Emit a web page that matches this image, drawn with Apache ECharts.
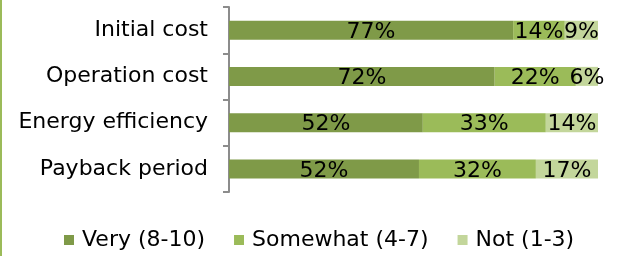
<!DOCTYPE html>
<html>
<head>
<meta charset="utf-8">
<script src="https://cdn.jsdelivr.net/npm/echarts@6/dist/echarts.min.js"></script>
<style>
  html, body { margin: 0; padding: 0; background: #fff; }
  #chart { width: 625px; height: 256px; }
</style>
</head>
<body>
<div id="chart"></div>
<script>
// 数据
var categories = ['Initial cost', 'Operation cost', 'Energy efficiency', 'Payback period'];
var seriesNames = ['Very (8-10)', 'Somewhat (4-7)', 'Not (1-3)'];
var very = [77, 72, 52, 52];
var somewhat = [14, 22, 33, 32];
var notAt = [9, 6, 14, 17];
var colors = ['#7f9a48', '#9bbb59', '#c3d69b'];

var raw = [very, somewhat, notAt];

// 100% stacked: each row scaled to its own total, label shows the raw value
function rowTotal(i) {
  return very[i] + somewhat[i] + notAt[i];
}

var chart = echarts.init(document.getElementById('chart'));

var series = raw.map(function (values, s) {
  return {
    name: seriesNames[s],
    type: 'bar',
    stack: 'total',
    barWidth: 19,
    itemStyle: { color: colors[s] },
    label: {
      show: true,
      position: 'inside',
      offset: [0, 2],
      color: '#000',
      fontFamily: 'DejaVu Sans',
      fontSize: 22,
      formatter: function (p) {
        return values[p.dataIndex] + '%';
      }
    },
    data: values.map(function (v, i) {
      return v / rowTotal(i) * 100;
    })
  };
});

var option = {
  animation: false,
  textStyle: { fontFamily: 'DejaVu Sans' },
  grid: { left: 229, right: 27, top: 7, bottom: 64 },
  xAxis: {
    type: 'value',
    min: 0,
    max: 100,
    show: false
  },
  yAxis: {
    type: 'category',
    inverse: true,
    data: categories,
    axisLine: { lineStyle: { color: '#8c8c8c', width: 2 } },
    axisTick: { show: true, length: 6, lineStyle: { color: '#8c8c8c', width: 2 } },
    axisLabel: {
      margin: 21,
      color: '#000',
      fontFamily: 'DejaVu Sans',
      fontSize: 22
    }
  },
  legend: {
    data: seriesNames,
    left: 64,
    top: 229,
    padding: 0,
    itemWidth: 10,
    itemHeight: 10,
    itemGap: 29,
    icon: 'rect',
    textStyle: {
      color: '#000',
      fontFamily: 'DejaVu Sans',
      fontSize: 22,
      padding: [0, 0, 0, 3]
    }
  },
  graphic: [
    {
      type: 'rect',
      left: 0,
      top: 0,
      shape: { width: 2, height: 256 },
      style: { fill: '#9bbb59' }
    }
  ],
  series: series
};

if (option && typeof option === 'object') {
  chart.setOption(option);
}

window.addEventListener('resize', chart.resize);
</script>
</body>
</html>
